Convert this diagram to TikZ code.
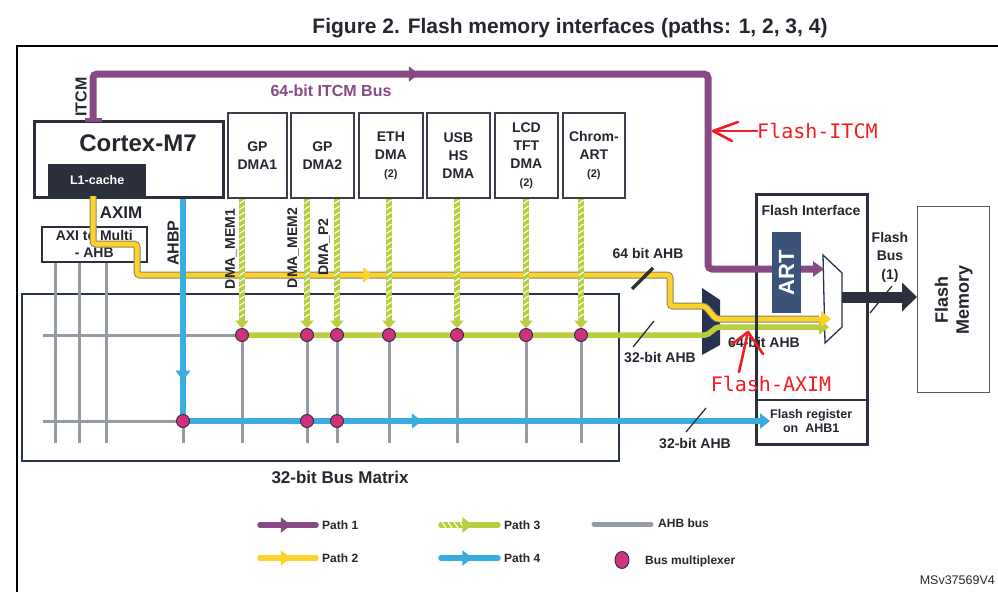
\documentclass[tikz,border=0pt]{standalone}
\usepackage{fontspec}
\setmainfont{Liberation Sans}
\newfontfamily\annfont{DejaVu Sans Mono}
\usetikzlibrary{arrows.meta,decorations.markings,shapes.geometric}
\definecolor{pcol}{HTML}{874A85}
\definecolor{ycol}{HTML}{FDD22B}
\definecolor{yedge}{HTML}{8A8262}
\definecolor{gcol}{HTML}{B9CD3E}
\definecolor{bcol}{HTML}{39ADE0}
\definecolor{ahbgray}{HTML}{949BA2}
\definecolor{mcol}{HTML}{D0307C}
\definecolor{dk}{HTML}{2B303C}
\definecolor{dkbox}{HTML}{3A3F4B}
\definecolor{navy}{HTML}{283350}
\definecolor{artcol}{HTML}{3C5379}
\definecolor{redann}{HTML}{F01E23}
\definecolor{txtc}{HTML}{24272F}
\definecolor{fmgray}{HTML}{555A66}
\newcommand\fsz[2]{\fontsize{#1}{#2}\selectfont}
\begin{document}
\begin{tikzpicture}[x=1pt,y=-1pt,
  every node/.style={text=txtc, inner sep=0},
  dmabox/.style={draw=dkbox, line width=1.8, fill=white, minimum height=85, anchor=north west, align=center, font=\bfseries\fsz{14}{18}},
  ahb/.style={draw=ahbgray, line width=3},
  p1/.style={draw=pcol, line width=7},
  p2/.style={draw=ycol, line width=5},
  p2edge/.style={draw=yedge, line width=7},
  p3/.style={draw=gcol, line width=5.5},
  p4/.style={draw=bcol, line width=5.5},
  endtip/.style={-{Triangle[length=10pt,width=15pt]}},
  hatch/.style={postaction={decorate, decoration={markings, mark=between positions 3pt and #1 step 6pt with {\draw[white, line width=1.1, -, shorten >=0pt, shorten <=0pt] (-1.8,-2.6) -- (1.8,2.6);}}}},
  marrow/.style={postaction={decorate, decoration={markings, mark=at position #1 with {\arrow{Triangle[length=10pt,width=15pt]}}}}},
  busmux/.style={circle, fill=mcol, draw=dk, line width=0.9, minimum size=13},
  slash/.style={draw=dk, line width=1.3},
  lbl/.style={font=\bfseries\fsz{14}{17}},
  legtxt/.style={font=\bfseries\fsz{12}{14}, anchor=west},
  redline/.style={draw=redann, line width=2.6, line cap=round, line join=round},
]
\fill[white] (0,0) rectangle (998,592);
\useasboundingbox (0,0) rectangle (998,592);

% title and frame
\node[font=\bfseries\fsz{21}{24}] (title) at (570,28) {Figure 2. Flash memory interfaces (paths: 1, 2, 3, 4)};
\draw[black, line width=2] (17,592) -- (17,46) -- (998,46);

% bus matrix
\node[draw=navy, line width=1.5, minimum width=597, minimum height=167, anchor=north west] (bm) at (21,293) {};
\node[font=\bfseries\fsz{17}{20}] (bmlbl) at (340,477) {32-bit Bus Matrix};

% coordinates
\coordinate (m1) at (242,335); \coordinate (m2) at (307,335); \coordinate (m3) at (337,335);
\coordinate (m4) at (389,335); \coordinate (m5) at (457,335); \coordinate (m6) at (526,335);
\coordinate (m7) at (581,335);
\coordinate (b0) at (183,421); \coordinate (b2) at (307,421); \coordinate (b3) at (337,421);
\coordinate (gbot) at (0,443);
\coordinate (hl1) at (43,335); \coordinate (hl2) at (43,421);
\coordinate (ga) at (55,443); \coordinate (gb) at (79,443); \coordinate (gc) at (106,443);

% Cortex-M7
\node[draw=dk, line width=3, fill=white, minimum width=189, minimum height=76, anchor=north west] (cm) at (33,120) {};
\node[font=\bfseries\fsz{24}{28}] (cmt) at (138,143) {Cortex-M7};
\node[fill=dk, minimum width=98, minimum height=32, anchor=south west, text=white, font=\bfseries\fsz{12.5}{15}] (l1) at (48,196) {L1-cache};

% AXI to Multi-AHB
\node[draw=dk, line width=1.5, fill=white, minimum width=105, minimum height=35, anchor=north west, align=center, font=\bfseries\fsz{14}{17}] (axi) at (41,226) {AXI to Multi\\- AHB};

% DMA masters
\node[dmabox, minimum width=59] (dma1) at (227,112) {GP\\DMA1};
\node[dmabox, minimum width=63] (dma2) at (290,112) {GP\\DMA2};
\node[dmabox, minimum width=64] (eth) at (358,112) {ETH\\DMA\\{\fsz{11}{18}(2)}};
\node[dmabox, minimum width=63] (usb) at (426,112) {USB\\HS\\DMA};
\node[dmabox, minimum width=63] (lcd) at (494,112) {LCD\\TFT\\DMA\\{\fsz{11}{18}(2)}};
\node[dmabox, minimum width=62] (chrom) at (562,112) {Chrom-\\ART\\{\fsz{11}{18}(2)}};

% AHB bus (gray)
\foreach \g in {ga,gb,gc} \draw[ahb] (axi.south -| \g) -- (\g);
\draw[ahb] (hl1) -- (m1);
\draw[ahb] (hl2) -- (b0);
\foreach \m in {m1,m2,m3,m4,m5,m6,m7,b0} \draw[ahb] (\m) -- (\m |- gbot);

% 64-bit AHB multiplexer (dark) and flash mux (white)
\fill[navy] (702,288) -- (720,300) -- (720,345) -- (702,355) -- cycle;
\draw[navy, line width=1.3, fill=white] (823,255) -- (842,273) -- (842,327) -- (825,343) -- cycle;
\coordinate (muxr) at (842,297);

% Path 3 horizontal (green)
\coordinate (gq1) at (707,335); \coordinate (gq2) at (717,327); \coordinate (gend) at (829,327);
\draw[p3, rounded corners=2, endtip] (m1) -- (gq1) -- (gq2) -- (gend);

% Path 2 (yellow)
\coordinate (ya) at (93,244); \coordinate (yb) at (137,244); \coordinate (yc) at (137,275);
\coordinate (yd) at (670,275); \coordinate (ye) at (670,306); \coordinate (yf) at (705,306);
\coordinate (yg) at (716,319); \coordinate (yend) at (831,319);
\draw[p2edge, rounded corners=3, shorten >=12pt] (l1.south -| ya) -- (ya) -- (yb) -- (yc) -- (yd) -- (ye) -- (yf) -- (yg) -- (yend);
\draw[p2, rounded corners=3, endtip] (l1.south -| ya) -- (ya) -- (yb) -- (yc) -- (yd) -- (ye) -- (yf) -- (yg) -- (yend);
\path[color=ycol, marrow=0.443] (yc) -- (yd);

% Path 3 verticals (hatched green)
\foreach \m/\src in {m1/dma1, m2/dma2, m3/dma2, m4/eth, m5/usb, m6/lcd, m7/chrom}
  \draw[p3, hatch=-16pt, shorten >=6.5pt, -{Triangle[length=8pt,width=13pt]}] (\src.south -| \m) -- (\m);

% Flash interface
\node[draw=dk, line width=3, minimum width=111, minimum height=250, anchor=north west] (fi) at (755,193) {};
\coordinate (fdiv) at (755,400);
\draw[dk, line width=1.2] (fdiv) -- (fdiv -| fi.east);
\node[lbl] (fit) at (811,210) {Flash Interface};
\node[font=\bfseries\fsz{12.5}{14}, align=center, anchor=west] (freg) at (770,421) {Flash register\\on\ \ AHB1};

% Path 1 (purple ITCM)
\coordinate (i1) at (93,74); \coordinate (i2) at (708,74); \coordinate (i3) at (708,269); \coordinate (ie) at (824,269);
\draw[p1, rounded corners=4, -{Triangle[length=11pt,width=15pt]}] (cm.north -| i1) -- (i1) -- (i2) -- (i3) -- (ie);
\path[color=pcol, marrow=0.53] (i1) -- (i2);
\draw[pcol, line width=3.5] (85,120) -- (102,120);
\node[rotate=90, font=\bfseries\fsz{16}{18}] (itcml) at (81,97) {ITCM};
\node[font=\bfseries\fsz{16}{18}, text=pcol] (itcmbus) at (331,91) {64-bit ITCM Bus};

% ART
\node[fill=artcol, rotate=90, minimum width=81, minimum height=29, text=white, font=\bfseries\fsz{22}{24}] (art) at (786.5,272.5) {ART};

% Path 4 (blue AHBP)
\draw[p4, endtip] (cm.south -| b0) -- (b0) -- (freg.west);
\path[color=bcol, marrow=0.818] (cm.south -| b0) -- (b0);
\path[color=bcol, marrow=0.407] (b0) -- (freg.west);

% bus multiplexers
\foreach \m in {m1,m2,m3,m4,m5,m6,m7,b0,b2,b3} \node[busmux] (x\m) at (\m) {};

% flash memory and flash bus
\node[draw=fmgray, line width=1.3, minimum width=72, minimum height=186, anchor=north west] (fm) at (917,206) {};
\node[rotate=90, align=center, font=\bfseries\fsz{18}{21}] (fmt) at (fm.center) {Flash\\Memory};
\draw[dk, line width=11, -{Triangle[length=15pt,width=28pt]}] (muxr) -- (muxr -| fm.west);
\node[lbl, align=center, font=\bfseries\fsz{14}{18.5}] (fbl) at (890,257) {Flash\\Bus\\(1)};
\draw[slash] (870,313) -- (892,286);

% bus labels
\node[font=\bfseries\fsz{17}{20}] (aximl) at (121,213) {AXIM};
\node[rotate=90, font=\bfseries\fsz{16}{18}] (ahbpl) at (173,243) {AHBP};
\node[rotate=90, font=\bfseries\fsz{14}{16}] (dm1l) at (231,249) {DMA\_MEM1};
\node[rotate=90, font=\bfseries\fsz{14}{16}] (dm2l) at (293,248) {DMA\_MEM2};
\node[rotate=90, font=\bfseries\fsz{14}{16}] (dp2l) at (324,247) {DMA\_P2};
\node[lbl] (l64a) at (648,253) {64 bit AHB};
\draw[dk, line width=3.5] (632,289) -- (653,268);
\node[lbl] (l32a) at (660,357) {32-bit AHB};
\draw[slash] (633,347) -- (654,321);
\node[lbl] (l64b) at (764,342) {64-bit AHB};
\node[lbl] (l32b) at (695,443) {32-bit AHB};
\draw[slash] (686,432) -- (706,408);

% red annotations
\node[font=\annfont\fsz{20}{24}, text=redann, anchor=west] (fitcm) at (757,131) {Flash-ITCM};
\coordinate (rit) at (713,131);
\draw[redline] (fitcm.west) -- (rit);
\draw[redline] (738,122) -- (rit) -- (732,141);
\node[font=\annfont\fsz{20}{24}, text=redann] (faxim) at (771,384) {Flash-AXIM};
\coordinate (rat) at (748,332); \coordinate (rab) at (739,372);
\draw[redline] (rab) -- (rat);
\draw[redline] (732,344) -- (rat) -- (763,354);

% legend
\coordinate (lp1a) at (260,525); \coordinate (lp1b) at (316,525);
\coordinate (lp2a) at (260,558); \coordinate (lp2b) at (316,558);
\coordinate (lp3a) at (441,525); \coordinate (lp3b) at (498,525);
\coordinate (lp4a) at (441,558); \coordinate (lp4b) at (498,558);
\coordinate (lpga) at (594,524); \coordinate (lpgb) at (651,524);
\draw[p1, line width=5.5, line cap=round, marrow=0.55] (lp1a) -- (lp1b);
\draw[p2, line width=5.5, line cap=round, marrow=0.55] (lp2a) -- (lp2b);
\draw[p3, line width=5.5, line cap=round, hatch=26pt, marrow=0.55] (lp3a) -- (lp3b);
\draw[p4, line width=5.5, line cap=round, marrow=0.55] (lp4a) -- (lp4b);
\draw[ahb, line width=5, line cap=round] (lpga) -- (lpgb);
\node[ellipse, fill=mcol, draw=dk, line width=0.9, minimum width=14, minimum height=17] (legmux) at (622,560) {};
\node[legtxt] (t1) at (322,525) {Path 1};
\node[legtxt] (t2) at (322,558) {Path 2};
\node[legtxt] (t3) at (504,525) {Path 3};
\node[legtxt] (t4) at (504,558) {Path 4};
\node[legtxt] (tg) at (658,523) {AHB bus};
\node[legtxt] (tm) at (645,561) {Bus multiplexer};
\node[font=\fsz{12.5}{14}, anchor=east] (msv) at (995,580) {MSv37569V4};
\end{tikzpicture}
\end{document}
